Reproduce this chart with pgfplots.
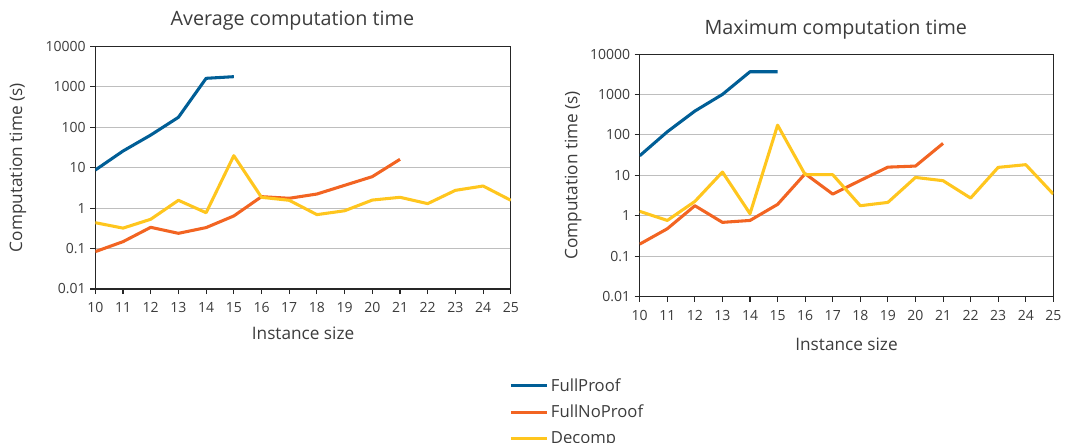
\documentclass[border=0pt]{standalone}
\usepackage{pgfplots}
\pgfplotsset{compat=1.18}
\usepackage{fontspec}
\setmainfont{Open Sans}

\definecolor{fpblue}{RGB}{0,94,150}
\definecolor{nporange}{RGB}{242,100,34}
\definecolor{dyellow}{RGB}{255,198,30}
\definecolor{gridgray}{RGB}{190,190,190}
\definecolor{txtgray}{RGB}{60,60,60}

\pgfplotsset{
  timeplot/.style={
    scale only axis,
    width=311.6pt, height=182pt,
    xmin=10, xmax=25, ymin=0.01, ymax=10000,
    xtick={10,...,25},
    ytick={0.01,0.1,1,10,100,1000,10000},
    yticklabels={0.01,0.1,1,10,100,1000,10000},
    yminorticks=false,
    tick pos=left, tick align=outside,
    major tick length=3.75pt,
    ymajorgrids, grid style={gridgray, line width=0.8pt},
    axis line style={black!85, line width=0.8pt},
    tick style={black!85, line width=0.8pt},
    /pgf/number format/assume math mode=true,
    ticklabel style={font=\fontsize{10.5}{12}\selectfont, text=txtgray},
    xticklabel style={yshift=-3pt},
    label style={font=\fontsize{12.9}{15}\selectfont, text=txtgray},
    title style={font=\fontsize{14.8}{17}\selectfont, text=txtgray},
    xlabel={Instance size},
    ylabel={Computation time (s)},
    every axis plot/.append style={line width=2.3pt, line join=round},
    legend image code/.code={\draw[##1] (0pt,0pt) -- (27pt,0pt);},
  }
}

\begin{document}
\begin{tikzpicture}[x=1pt,y=1pt]
\path[use as bounding box] (0,0) rectangle (804,332.25);

\begin{axis}[ymode=log, timeplot,
  at={(71.5pt,115.5pt)}, anchor=south west,
  title={Average computation time},
  title style={at={(0.5,1)}, anchor=center, yshift=13.5pt, xshift=-8pt},
  xlabel style={at={(0.5,0)}, anchor=center, yshift=-33pt},
  ylabel style={at={(0,0.5)}, anchor=center, rotate=0, yshift=58pt},
  legend style={at={(0.986,-0.346)}, anchor=north west, draw=none, fill=none,
    font=\fontsize{12.5}{14}\selectfont, text=txtgray, row sep=4.9pt,
    legend cell align=left},
]
\addplot[fpblue] coordinates {
  (10,8.75) (11,25.8) (12,64) (13,176) (14,1618) (15,1778)
};
\addlegendentry{FullProof}
\addplot[nporange] coordinates {
  (10,0.084) (11,0.148) (12,0.335) (13,0.238) (14,0.33) (15,0.64)
  (16,1.92) (17,1.75) (18,2.23) (19,3.66) (20,6.0) (21,16.1)
};
\addlegendentry{FullNoProof}
\addplot[dyellow] coordinates {
  (10,0.436) (11,0.32) (12,0.53) (13,1.56) (14,0.77) (15,19.8)
  (16,1.85) (17,1.56) (18,0.69) (19,0.86) (20,1.58) (21,1.85)
  (22,1.29) (23,2.75) (24,3.52) (25,1.56)
};
\addlegendentry{Decomp}
\end{axis}

\begin{axis}[ymode=log, timeplot,
  at={(479.8pt,109.7pt)}, anchor=south west,
  width=310.2pt,
  title={Maximum computation time},
  title style={at={(0.5,1)}, anchor=center, yshift=12pt, xshift=-8pt},
  xlabel style={at={(0.5,0)}, anchor=center, yshift=-36pt},
  ylabel style={at={(0,0.5)}, anchor=center, yshift=50pt},
]
\addplot[fpblue] coordinates {
  (10,30.6) (11,120) (12,390) (13,1007) (14,3660) (15,3660)
};
\addplot[nporange] coordinates {
  (10,0.2) (11,0.48) (12,1.78) (13,0.69) (14,0.77) (15,1.92)
  (16,11) (17,3.45) (18,7.5) (19,16) (20,17) (21,61.8)
};
\addplot[dyellow] coordinates {
  (10,1.29) (11,0.77) (12,2.27) (13,12.1) (14,1.13) (15,175)
  (16,10.4) (17,10.4) (18,1.78) (19,2.15) (20,8.9) (21,7.4)
  (22,2.75) (23,15.8) (24,18.4) (25,3.45)
};
\end{axis}
\end{tikzpicture}
\end{document}
